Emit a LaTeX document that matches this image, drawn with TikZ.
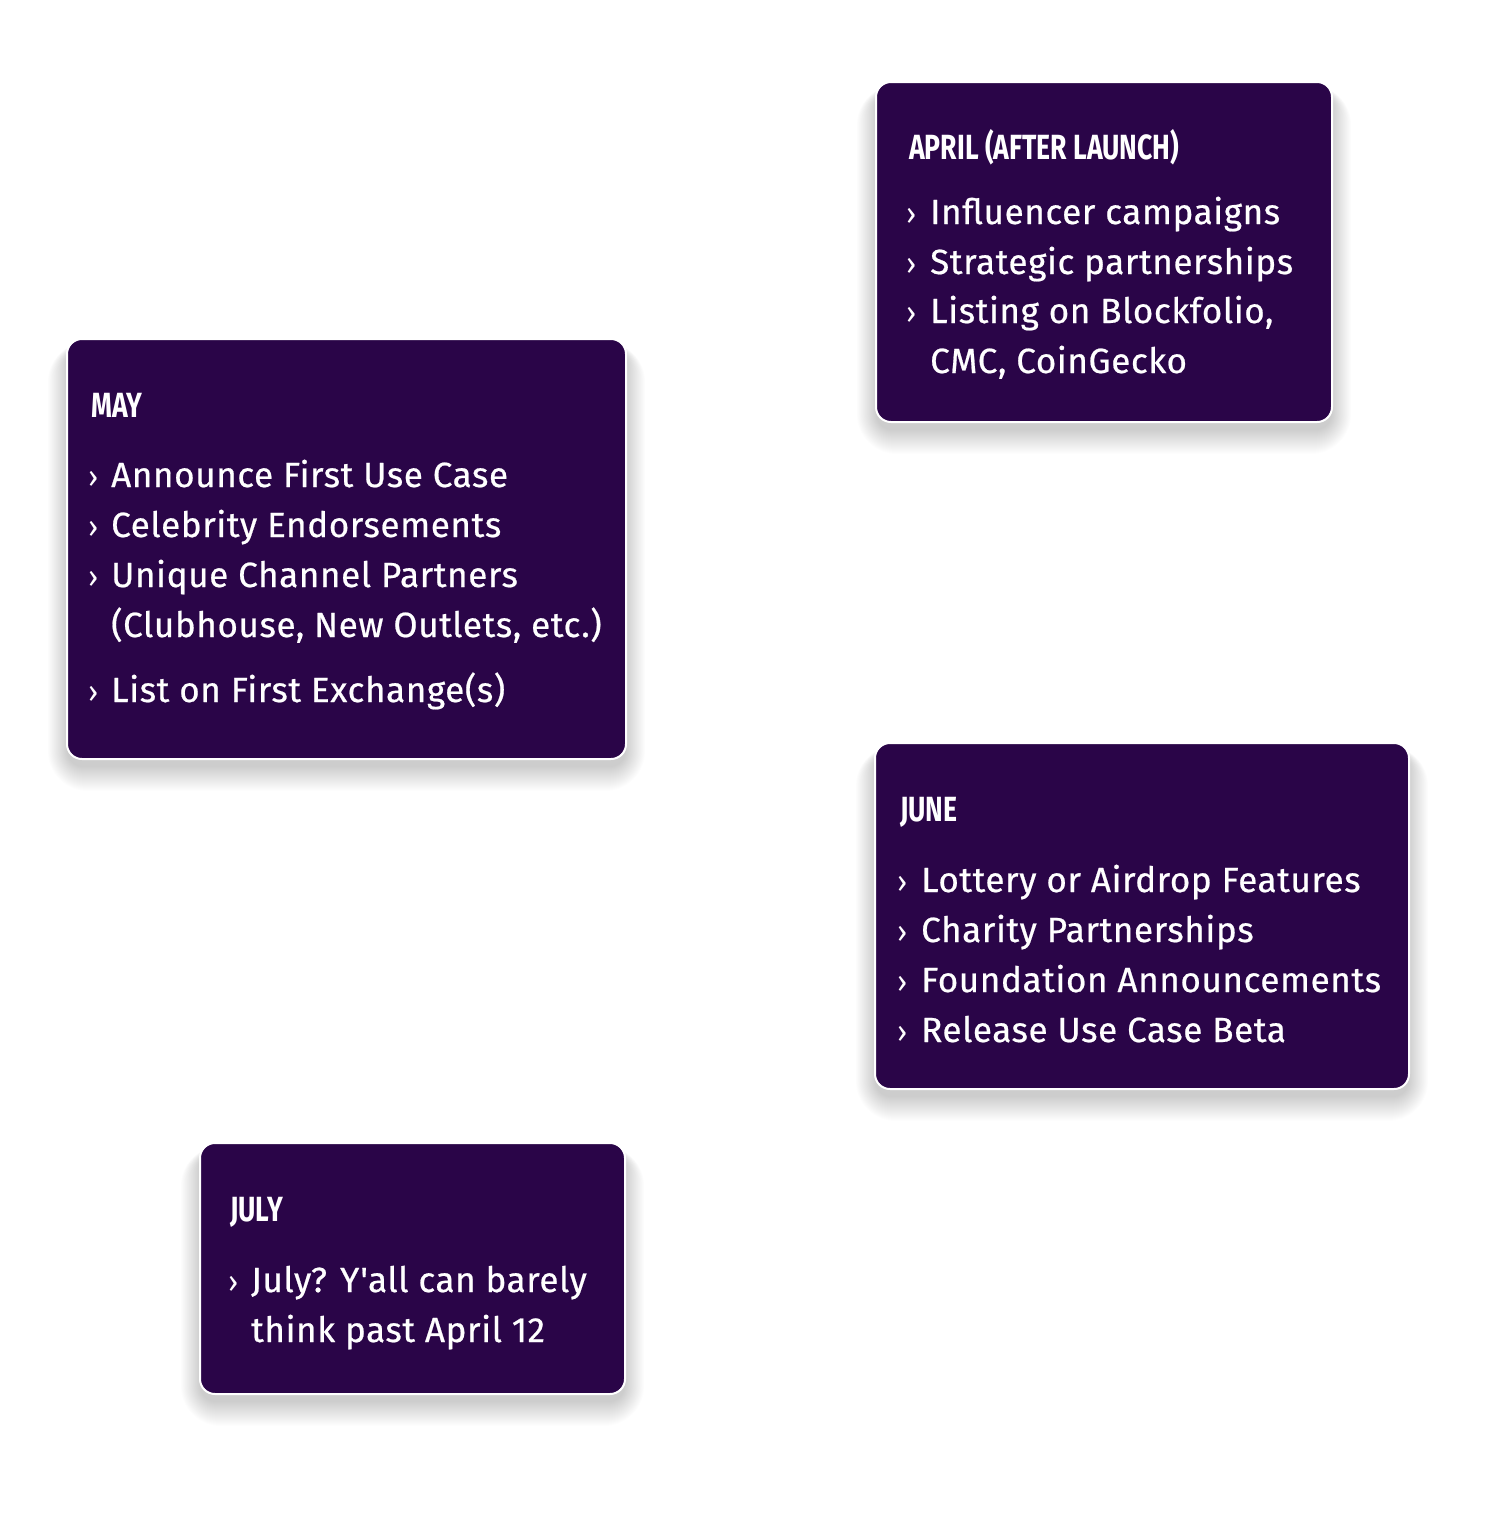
\documentclass[tikz,border=0pt]{standalone}
\usepackage{fontspec}
\usepackage{graphicx}
\setmainfont{Fira Sans}
\newfontfamily\itmfont{Fira Sans}[Ligatures=TeXOff,FakeBold=0.6,LetterSpace=1.8]
\newfontfamily\bulfont{Fira Sans}[Ligatures=TeXOff]
\definecolor{cardfill}{RGB}{42,5,72}
\newcommand\cardshadow[4]{%
  \foreach \i in {0,...,24}{%
    \pgfmathsetmacro\rc{16+\i*1.0}%
    \fill[black,opacity=0.0075,rounded corners=\rc pt]
      ({#1-\i*0.8},{#2+8-\i*0.2}) rectangle ({#3+\i*0.8},{#4+8+\i*1.0});}}
\newcommand\hd[1]{\scalebox{0.76}[1]{\bfseries #1}}
\tikzset{
  card/.style={draw=white,line width=2pt,fill=cardfill,rounded corners=15pt,
    inner sep=0pt,outer sep=0pt,anchor=north west},
  hdr/.style={text=white,inner sep=0pt,anchor=base west,
    font=\fontsize{35}{40}\selectfont},
  bul/.style={text=white,inner sep=0pt,anchor=base west,
    font=\bulfont\fontsize{30}{36}\selectfont},
  itm/.style={text=white,inner sep=0pt,anchor=base west,
    font=\itmfont\fontsize{35}{42}\selectfont},
}
\begin{document}
\begin{tikzpicture}[x=1pt,y=-1pt]
\useasboundingbox (0,0) rectangle (1496,1537);
\fill[white] (0,0) rectangle (1496,1537);

% shadows
\cardshadow{876}{82}{1332}{422}
\cardshadow{67}{339}{626}{759}
\cardshadow{875}{743}{1409}{1089}
\cardshadow{200}{1143}{625}{1394}

% cards
\node[card,minimum width=456pt,minimum height=340pt] (apr) at (876,82) {};
\node[card,minimum width=559pt,minimum height=420pt] (may) at (67,339) {};
\node[card,minimum width=534pt,minimum height=346pt] (jun) at (875,743) {};
\node[card,minimum width=425pt,minimum height=251pt] (jul) at (200,1143) {};

% April
\node[hdr] (aprh) at (909,159) {\hd{APRIL (AFTER LAUNCH)}};
\node[bul] (aprb1) at (906,224) {›};
\node[itm] (apr1) at (930,224) {Influencer campaigns};
\node[bul] (aprb2) at (906,274) {›};
\node[itm] (apr2) at (930,274) {Strategic partnerships};
\node[bul] (aprb3) at (906,323) {›};
\node[itm] (apr3) at (930,323) {Listing on Blockfolio,};
\node[itm] (apr4) at (930,373) {CMC, CoinGecko};

% May
\node[hdr] (mayh) at (91,417) {\hd{MAY}};
\node[bul] (mayb1) at (88,487) {›};
\node[itm] (may1) at (111,487) {Announce First Use Case};
\node[bul] (mayb2) at (88,537) {›};
\node[itm] (may2) at (111,537) {Celebrity Endorsements};
\node[bul] (mayb3) at (88,587) {›};
\node[itm] (may3) at (111,587) {Unique Channel Partners};
\node[itm] (may4) at (111,637) {(Clubhouse, New Outlets, etc.)};
\node[bul] (mayb5) at (88,702) {›};
\node[itm] (may5) at (111,702) {List on First Exchange(s)};

% June
\node[hdr] (junh) at (900,821) {\hd{JUNE}};
\node[bul] (junb1) at (897,892) {›};
\node[itm] (jun1) at (921,892) {Lottery or Airdrop Features};
\node[bul] (junb2) at (897,942) {›};
\node[itm] (jun2) at (921,942) {Charity Partnerships};
\node[bul] (junb3) at (897,992) {›};
\node[itm] (jun3) at (921,992) {Foundation Announcements};
\node[bul] (junb4) at (897,1042) {›};
\node[itm] (jun4) at (921,1042) {Release Use Case Beta};

% July
\node[hdr] (julh) at (230,1221) {\hd{JULY}};
\node[bul] (julb1) at (228,1292) {›};
\node[itm] (jul1) at (251,1292) {July? Y'all can barely};
\node[itm] (jul2) at (251,1342) {think past April 12};
\end{tikzpicture}
\end{document}
